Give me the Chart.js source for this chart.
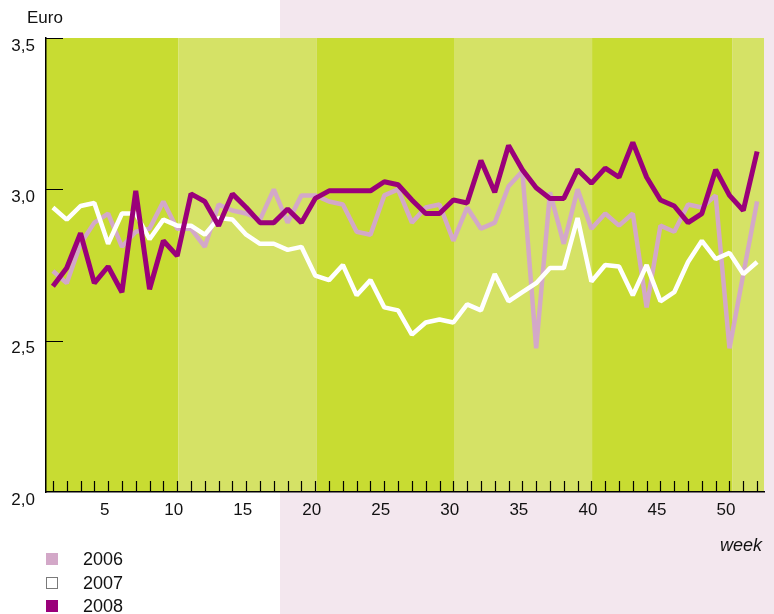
<!DOCTYPE html>
<html>
<head>
<meta charset="utf-8">
<script src="https://cdn.jsdelivr.net/npm/chart.js@4/dist/chart.umd.min.js"></script>
<style>
  html, body { margin: 0; padding: 0; }
  body {
    width: 774px; height: 614px; position: relative; overflow: hidden;
    background: linear-gradient(to right, #ffffff 280px, #f3e7ee 280px);
    font-family: 'Liberation Sans', Arial, sans-serif; color: #111;
  }
  #chart { position: absolute; left: 0; top: 0; }
  .lbl { position: absolute; line-height: 17px; font-size: 17px; white-space: nowrap; }
  .legend { position: absolute; left: 46px; font-size: 18px; line-height: 18px; }
  .legend .box { position: absolute; left: 0; width: 12px; height: 12px; box-sizing: border-box; }
  .legend .txt { position: absolute; left: 37px; }
</style>
</head>
<body>
<canvas id="chart" width="774" height="614"></canvas>
<div class="lbl" style="left:27px; top:9px;">Euro</div>
<div class="lbl" style="right:12px; top:537px; font-style:italic; font-size:18px;">week</div>
<div id="legend"></div>

<script>
// weeks on the x axis
const weeks = [1, 2, 3, 4, 5, 6, 7, 8, 9, 10, 11, 12, 13, 14, 15, 16, 17, 18, 19, 20,
  21, 22, 23, 24, 25, 26, 27, 28, 29, 30, 31, 32, 33, 34, 35, 36, 37, 38, 39, 40,
  41, 42, 43, 44, 45, 46, 47, 48, 49, 50, 51, 52];
const weekLabels = [5, 10, 15, 20, 25, 30, 35, 40, 45, 50];
const yTicks = [2.0, 2.5, 3.0, 3.5];

// price per week, euro
const price2006 = [2.73, 2.69, 2.82, 2.89, 2.92, 2.81, 2.86, 2.87, 2.96, 2.87,
  2.87, 2.81, 2.95, 2.93, 2.92, 2.90, 3.00, 2.89, 2.98, 2.98,
  2.96, 2.95, 2.86, 2.85, 2.98, 3.00, 2.89, 2.94, 2.95, 2.83,
  2.94, 2.87, 2.89, 3.01, 3.06, 2.475, 2.99, 2.82, 3.00, 2.87,
  2.92, 2.88, 2.92, 2.61, 2.88, 2.86, 2.95, 2.94, 2.98, 2.475, 2.72, 2.96];
const price2007 = [2.94, 2.90, 2.945, 2.955, 2.82, 2.92, 2.92, 2.835, 2.90, 2.88,
  2.88, 2.85, 2.905, 2.90, 2.85, 2.82, 2.82, 2.80, 2.81, 2.715,
  2.70, 2.75, 2.65, 2.70, 2.61, 2.60, 2.52, 2.56, 2.57, 2.56,
  2.62, 2.60, 2.72, 2.63, 2.66, 2.69, 2.74, 2.74, 2.905, 2.695,
  2.75, 2.745, 2.65, 2.75, 2.63, 2.66, 2.76, 2.83, 2.77, 2.79, 2.72, 2.76];
const price2008 = [2.68, 2.74, 2.855, 2.69, 2.745, 2.66, 2.995, 2.67, 2.83, 2.78,
  2.985, 2.96, 2.88, 2.985, 2.94, 2.89, 2.89, 2.935, 2.89, 2.97,
  2.995, 2.995, 2.995, 2.995, 3.025, 3.015, 2.965, 2.92, 2.92, 2.965,
  2.955, 3.095, 2.99, 3.145, 3.065, 3.005, 2.97, 2.97, 3.065, 3.02,
  3.07, 3.04, 3.155, 3.04, 2.965, 2.945, 2.89, 2.92, 3.065, 2.98, 2.93, 3.125];

// background bands switch colour at these weeks
const bandEdges = [10.1, 20.1, 30.05, 40.05, 50.2];

const series = [
  { label: '2006', data: price2006, color: '#d3a8c8', width: 4.5, order: 2 },
  { label: '2007', data: price2007, color: '#ffffff', width: 4.5, order: 1 },
  { label: '2008', data: price2008, color: '#9a007a', width: 5, order: 0 }
];

const DARK = '#c8dc32';
const LIGHT = '#d5e266';

// green bands behind the plot
const bands = {
  id: 'bands',
  beforeDraw(chart) {
    const { ctx, chartArea: a, scales: { x } } = chart;
    const edges = [a.left, ...bandEdges.map(w => x.getPixelForValue(w - 1)), a.right];
    ctx.save();
    for (let i = 0; i < edges.length - 1; i++) {
      ctx.fillStyle = i % 2 === 0 ? DARK : LIGHT;
      ctx.fillRect(edges[i], a.top, edges[i + 1] - edges[i], a.bottom - a.top);
    }
    ctx.restore();
  }
};

// small inner tick marks: one per week on x, major ones on y
const innerTicks = {
  id: 'innerTicks',
  beforeDatasetsDraw(chart) {
    const { ctx, chartArea: a, scales: { x, y } } = chart;
    ctx.save();
    ctx.strokeStyle = '#000';
    ctx.lineWidth = 1.2;
    ctx.beginPath();
    weeks.forEach((w, i) => {
      const px = Math.round(x.getPixelForValue(i)) + 0.5;
      ctx.moveTo(px, a.bottom);
      ctx.lineTo(px, a.bottom - 11);
    });
    yTicks.slice(1).forEach(v => {
      const py = Math.round(y.getPixelForValue(v)) + 0.5;
      ctx.moveTo(a.left, py);
      ctx.lineTo(a.left + 17, py);
    });
    ctx.stroke();
    ctx.restore();
  }
};

new Chart(document.getElementById('chart'), {
  type: 'line',
  data: {
    labels: weeks,
    datasets: series.map(s => ({
      label: s.label,
      data: s.data,
      borderColor: s.color,
      backgroundColor: s.color,
      borderWidth: s.width,
      order: s.order,
      pointRadius: 0,
      tension: 0,
      fill: false,
      borderJoinStyle: 'bevel',
      borderCapStyle: 'butt'
    }))
  },
  options: {
    responsive: false,
    animation: false,
    devicePixelRatio: 1,
    layout: { padding: { top: 38, right: 10, left: 0, bottom: 0 } },
    plugins: { legend: { display: false }, tooltip: { enabled: false } },
    scales: {
      x: {
        type: 'category',
        offset: true,
        grid: { display: false, drawTicks: false },
        border: { display: true, color: '#000', width: 1.5 },
        ticks: {
          autoSkip: false,
          maxRotation: 0,
          padding: 8,
          labelOffset: -3.5,
          color: '#111',
          font: { family: "'Liberation Sans', Arial, sans-serif", size: 17 },
          callback: (v, i) => weekLabels.includes(weeks[i]) ? String(weeks[i]) : ''
        },
        afterFit: s => { s.height = 122; }
      },
      y: {
        min: 2.0,
        max: 3.5,
        grid: { display: false, drawTicks: false },
        border: { display: true, color: '#000', width: 1.5 },
        afterBuildTicks: s => { s.ticks = yTicks.map(v => ({ value: v })); },
        ticks: {
          padding: 11,
          labelOffset: 8,
          color: '#111',
          font: { family: "'Liberation Sans', Arial, sans-serif", size: 17 },
          callback: v => v.toFixed(1).replace('.', ',')
        },
        afterFit: s => { s.width = 46; }
      }
    }
  },
  plugins: [bands, innerTicks]
});

// legend below the chart
const legend = document.getElementById('legend');
series.forEach((s, i) => {
  const row = document.createElement('div');
  row.className = 'legend';
  row.style.top = (550 + i * 23.7) + 'px';
  const box = document.createElement('div');
  box.className = 'box';
  box.style.top = '3px';
  box.style.background = s.color;
  if (s.color === '#ffffff') box.style.border = '1px solid #7a7a7a';
  const txt = document.createElement('div');
  txt.className = 'txt';
  txt.textContent = s.label;
  row.appendChild(box);
  row.appendChild(txt);
  legend.appendChild(row);
});
</script>
</body>
</html>
